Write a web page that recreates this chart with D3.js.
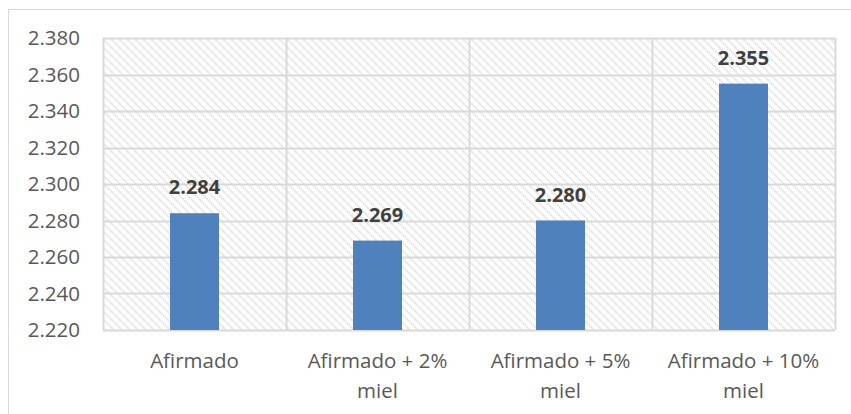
<!DOCTYPE html>
<html>
<head>
<meta charset="utf-8">
<script src="https://cdn.jsdelivr.net/npm/d3@7"></script>
<style>
  html, body { margin: 0; padding: 0; background: #fff; }
  svg { display: block; }
</style>
</head>
<body>
<div class="chart"></div>
<script>
'use strict';

var categories = [['Afirmado'], ['Afirmado + 2%', 'miel'], ['Afirmado + 5%', 'miel'], ['Afirmado + 10%', 'miel']];
var values = [2.284, 2.269, 2.280, 2.355];
var yTicks = [2.22, 2.24, 2.26, 2.28, 2.30, 2.32, 2.34, 2.36, 2.38];

var width = 851, height = 414;
var plot = {x0: 103, x1: 835, y0: 38, y1: 330};
var font = 'Open Sans, Liberation Sans, sans-serif';

var svg = d3.select('.chart').append('svg')
  .attr('width', width)
  .attr('height', height);

// outer chart border
svg.append('rect')
  .attr('x', 8.5).attr('y', 9.5)
  .attr('width', 850).attr('height', 420)
  .attr('fill', 'none')
  .attr('stroke', '#d9d9d9');

var defs = svg.append('defs');
var pat = defs.append('pattern')
  .attr('id', 'hatch')
  .attr('patternUnits', 'userSpaceOnUse')
  .attr('width', 8).attr('height', 8);
pat.append('path')
  .attr('d', 'M-2,-2 L10,10 M-2,6 L2,10 M6,-2 L10,2')
  .attr('stroke', '#d6d6d6')
  .attr('stroke-width', 1.6)
  .attr('stroke-dasharray', '1.4,1');

var x = d3.scaleBand()
  .domain(d3.range(categories.length))
  .range([plot.x0, plot.x1])
  .paddingInner(0)
  .paddingOuter(0);

var y = d3.scaleLinear()
  .domain([2.22, 2.38])
  .range([plot.y1, plot.y0]);

svg.append('rect')
  .attr('x', plot.x0).attr('y', plot.y0)
  .attr('width', plot.x1 - plot.x0).attr('height', plot.y1 - plot.y0)
  .attr('fill', 'url(#hatch)');

// horizontal gridlines
svg.append('g')
  .selectAll('line')
  .data(yTicks)
  .join('line')
  .attr('x1', plot.x0).attr('x2', plot.x1)
  .attr('y1', function(d) { return Math.round(y(d)) + 0.5; })
  .attr('y2', function(d) { return Math.round(y(d)) + 0.5; })
  .attr('stroke', '#d9d9d9')
  .attr('stroke-width', 2);

// vertical gridlines at category boundaries
var bounds = d3.range(categories.length + 1).map(function(i) {
  return i < categories.length ? x(i) : x.range()[1];
});
svg.append('g')
  .selectAll('line')
  .data(bounds)
  .join('line')
  .attr('x1', function(d) { return Math.round(d) + 0.5; })
  .attr('x2', function(d) { return Math.round(d) + 0.5; })
  .attr('y1', plot.y0).attr('y2', plot.y1)
  .attr('stroke', '#d9d9d9')
  .attr('stroke-width', 2);

var barW = 49;
svg.append('g')
  .selectAll('rect')
  .data(values)
  .join('rect')
  .attr('x', function(d, i) { return x(i) + x.bandwidth() / 2 - barW / 2; })
  .attr('y', function(d) { return y(d); })
  .attr('width', barW)
  .attr('height', function(d) { return y.range()[0] - y(d); })
  .attr('fill', '#4f81bd');

// bar labels
svg.append('g')
  .selectAll('text')
  .data(values)
  .join('text')
  .attr('x', function(d, i) { return x(i) + x.bandwidth() / 2; })
  .attr('y', function(d) { return y(d) - 19; })
  .attr('text-anchor', 'middle')
  .attr('font-family', font)
  .attr('font-weight', 'bold')
  .attr('font-size', 20)
  .attr('fill', '#404040')
  .text(function(d) { return d.toFixed(3); });

// y axis labels
var yAxis = d3.axisLeft(y)
  .tickValues(yTicks)
  .tickSize(0)
  .tickPadding(23)
  .tickFormat(d3.format('.3f'));
var ya = svg.append('g')
  .attr('transform', 'translate(' + plot.x0 + ',0)')
  .call(yAxis);
ya.select('.domain').remove();
ya.selectAll('text')
  .attr('font-family', font)
  .attr('font-size', 20.5)
  .attr('fill', '#595959');

// category labels
var cat = svg.append('g')
  .selectAll('text')
  .data(categories)
  .join('text')
  .attr('x', function(d, i) { return x(i) + x.bandwidth() / 2; })
  .attr('y', 368)
  .attr('text-anchor', 'middle')
  .attr('font-family', font)
  .attr('font-size', 20.5)
  .attr('fill', '#595959');
cat.selectAll('tspan')
  .data(function(d) { return d; })
  .join('tspan')
  .attr('x', function() { return d3.select(this.parentNode).attr('x'); })
  .attr('dy', function(d, i) { return i === 0 ? 0 : 30; })
  .text(function(d) { return d; });
</script>
</body>
</html>
